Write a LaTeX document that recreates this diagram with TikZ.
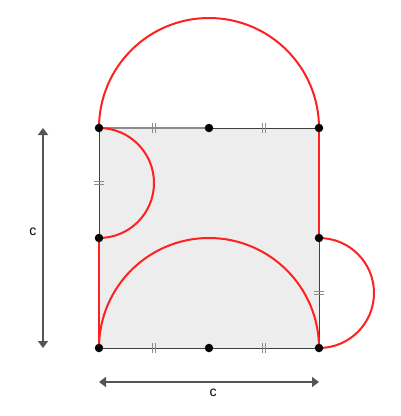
\documentclass[tikz,border=0pt]{standalone}
\usepackage{fontspec}
\setmainfont{Liberation Sans}
\usetikzlibrary{arrows.meta}
\definecolor{redc}{HTML}{FF2020}
\definecolor{arrc}{HTML}{555555}
\definecolor{fillc}{HTML}{EDEDED}
\tikzset{
  redline/.style={draw=redc, line width=2pt},
  edge/.style={draw=black!75, line width=0.9pt},
  tick/.style={draw=black!45, line width=0.7pt},
  dot/.style={circle, fill=black, inner sep=0pt, minimum size=8.5pt},
  dimarrow/.style={draw=arrc, line width=2.8pt, {Triangle[width=10pt,length=7pt]}-{Triangle[width=10pt,length=7pt]}},
  lab/.style={font=\fontsize{14}{16}\selectfont, text=black}
}
\begin{document}
\begin{tikzpicture}[x=1pt,y=-1pt]
\useasboundingbox (0,0) rectangle (400,416);
\fill[white] (0,0) rectangle (400,416);
% square
\fill[fillc] (99,128) rectangle (319,348);
\coordinate (A) at (99,128);
\coordinate (M) at (209,128);
\coordinate (B) at (319,128);
\coordinate (L) at (99,238);
\coordinate (R) at (319,238);
\coordinate (C) at (99,348);
\coordinate (N) at (209,348);
\coordinate (D) at (319,348);
\draw[draw=black!45, line width=1.8pt] (A) -- (M);
\draw[edge] (M) -- (B);
\draw[edge] (A) -- (L);
\draw[edge] (R) -- (D);
\draw[edge] (C) -- (D);
% ticks
\foreach \x in {154,264}{
  \draw[tick] (\x-1.5,123) -- (\x-1.5,133);
  \draw[tick] (\x+1.5,123) -- (\x+1.5,133);
  \draw[tick] (\x-1.5,343) -- (\x-1.5,353);
  \draw[tick] (\x+1.5,343) -- (\x+1.5,353);
}
\draw[tick] (94,181.5) -- (104,181.5);
\draw[tick] (94,184.5) -- (104,184.5);
\draw[tick] (314,291.5) -- (324,291.5);
\draw[tick] (314,294.5) -- (324,294.5);
% red curves
\draw[redline] (A) arc[start angle=180, end angle=360, radius=110];
\draw[redline] (A) arc[start angle=-90, end angle=90, radius=55];
\draw[redline] (C) arc[start angle=180, end angle=360, radius=110];
\draw[redline] (R) arc[start angle=-90, end angle=90, radius=55];
\draw[redline] (L) -- (C);
\draw[redline] (B) -- (R);
% dots
\foreach \p in {A,M,B,L,R,C,N,D} \node[dot] at (\p) {};
% dimension arrows
\coordinate (v1) at (43,128);
\coordinate (v2) at (43,348);
\draw[dimarrow] (v1) -- (v2);
\node[lab] (lc) at (33,232) {c};
\coordinate (h1) at (99,382);
\coordinate (h2) at (319,382);
\draw[dimarrow] (h1) -- (h2);
\node[lab] (bc) at (213,393) {c};
\end{tikzpicture}
\end{document}
